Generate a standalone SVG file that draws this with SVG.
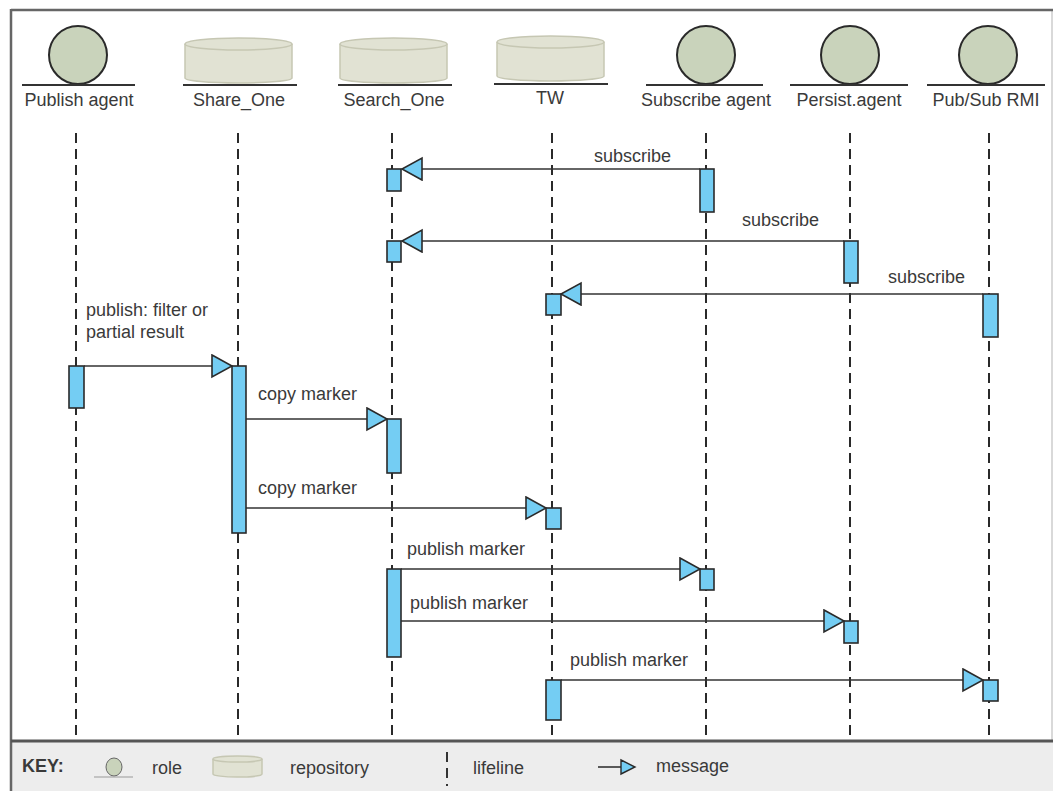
<svg xmlns="http://www.w3.org/2000/svg" width="1053" height="791" viewBox="0 0 1053 791">
<style>
text{font-family:"Liberation Sans",Arial,sans-serif;font-size:18px;fill:#3a3a3a}
.lbl{text-anchor:middle}
.role{fill:#c9d3bb;stroke:#2a2a2a;stroke-width:2}
.repo{fill:#e1e2d3;stroke:#c6c7b3;stroke-width:1.5}
.base{stroke:#333;stroke-width:2}
.life{stroke:#2a2a2a;stroke-width:2;stroke-dasharray:10 6;fill:none}
.act{fill:#74cdf3;stroke:#2a2a2a;stroke-width:1.6}
.msg{stroke:#333;stroke-width:1.6;fill:none;marker-end:url(#arr)}
</style>
<defs>
<marker id="arr" markerUnits="userSpaceOnUse" markerWidth="24" markerHeight="26" refX="21" refY="12" orient="auto" viewBox="0 0 24 26">
<path d="M1,1 L21,12 L1,23 Z" fill="#74cdf3" stroke="#2a2a2a" stroke-width="1.6"/>
</marker>
<g id="cyl">
<path class="repo" d="M0,6 V40 A53.5,5 0 0 0 107,40 V6"/>
<ellipse class="repo" cx="53.5" cy="6" rx="53.5" ry="6"/>
</g>
</defs>
<rect x="0" y="0" width="1053" height="791" fill="#fff"/>
<rect x="11" y="742" width="1042" height="49" fill="#ededed"/>
<line x1="1052" y1="10" x2="1052" y2="742" stroke="#ccc" stroke-width="1.5"/>
<line x1="11" y1="10" x2="1053" y2="10" stroke="#666" stroke-width="2.5"/>
<line x1="11" y1="9" x2="11" y2="791" stroke="#666" stroke-width="2.5"/>
<line x1="11" y1="741" x2="1053" y2="741" stroke="#555" stroke-width="3"/>

<g id="connectors">
<line class="life" x1="76" y1="133" x2="76" y2="736"/>
<line class="life" x1="238" y1="133" x2="238" y2="736"/>
<line class="life" x1="392" y1="133" x2="392" y2="736"/>
<line class="life" x1="552" y1="133" x2="552" y2="736"/>
<line class="life" x1="706" y1="133" x2="706" y2="736"/>
<line class="life" x1="850" y1="133" x2="850" y2="736"/>
<line class="life" x1="989" y1="133" x2="989" y2="736"/>

<line class="msg" x1="700" y1="169" x2="402" y2="169"/>
<text x="594" y="162">subscribe</text>
<line class="msg" x1="844" y1="241" x2="402" y2="241"/>
<text x="742" y="226">subscribe</text>
<line class="msg" x1="983" y1="294" x2="561" y2="294"/>
<text x="888" y="283">subscribe</text>
<line class="msg" x1="84" y1="366" x2="232" y2="366"/>
<text x="86" y="316">publish: filter or</text>
<text x="86" y="338">partial result</text>
<line class="msg" x1="246" y1="419" x2="387" y2="419"/>
<text x="258" y="400">copy marker</text>
<line class="msg" x1="246" y1="508" x2="546" y2="508"/>
<text x="258" y="494">copy marker</text>
<line class="msg" x1="401" y1="569" x2="700" y2="569"/>
<text x="407" y="555">publish marker</text>
<line class="msg" x1="401" y1="621" x2="844" y2="621"/>
<text x="410" y="609">publish marker</text>
<line class="msg" x1="561" y1="680" x2="983" y2="680"/>
<text x="570" y="666">publish marker</text>
</g>

<g id="publish-agent">
<circle class="role" cx="78" cy="55" r="29"/>
<line class="base" x1="22" y1="85" x2="135" y2="85"/>
<text class="lbl" x="79" y="106">Publish agent</text>
<rect class="act" x="69" y="366" width="15" height="42"/>
</g>
<g id="share-one">
<use href="#cyl" x="185" y="38"/>
<line class="base" x1="183" y1="85" x2="297" y2="85"/>
<text class="lbl" x="239" y="106">Share_One</text>
<rect class="act" x="232" y="366" width="14" height="167"/>
</g>
<g id="search-one">
<use href="#cyl" x="340" y="38"/>
<line class="base" x1="338" y1="85" x2="452" y2="85"/>
<text class="lbl" x="394" y="106">Search_One</text>
<rect class="act" x="387" y="169" width="14" height="22"/>
<rect class="act" x="387" y="241" width="14" height="21"/>
<rect class="act" x="387" y="419" width="14" height="54"/>
<rect class="act" x="387" y="569" width="14" height="88"/>
</g>
<g id="tw">
<use href="#cyl" x="497" y="36"/>
<line class="base" x1="494" y1="84" x2="608" y2="84"/>
<text class="lbl" x="550" y="104">TW</text>
<rect class="act" x="546" y="294" width="15" height="21"/>
<rect class="act" x="546" y="508" width="15" height="21"/>
<rect class="act" x="546" y="680" width="15" height="40"/>
</g>
<g id="subscribe-agent">
<circle class="role" cx="706" cy="55" r="29"/>
<line class="base" x1="646" y1="85" x2="763" y2="85"/>
<text class="lbl" x="706" y="106">Subscribe agent</text>
<rect class="act" x="700" y="169" width="14" height="43"/>
<rect class="act" x="700" y="569" width="14" height="21"/>
</g>
<g id="persist-agent">
<circle class="role" cx="850" cy="55" r="29"/>
<line class="base" x1="790" y1="85" x2="908" y2="85"/>
<text class="lbl" x="849" y="106">Persist.agent</text>
<rect class="act" x="844" y="241" width="14" height="42"/>
<rect class="act" x="844" y="621" width="14" height="22"/>
</g>
<g id="pubsub-rmi">
<circle class="role" cx="988" cy="55" r="29"/>
<line class="base" x1="927" y1="85" x2="1045" y2="85"/>
<text class="lbl" x="986" y="106">Pub/Sub RMI</text>
<rect class="act" x="983" y="294" width="15" height="43"/>
<rect class="act" x="983" y="680" width="15" height="21"/>
</g>

<g id="key">
<text x="22" y="772" style="font-weight:bold">KEY:</text>
<ellipse class="role" cx="114" cy="767" rx="8" ry="9" style="stroke:#666;stroke-width:1"/>
<line x1="94" y1="777" x2="133" y2="777" stroke="#999" stroke-width="1"/>
<text x="152" y="774">role</text>
<path class="repo" d="M213,759 V774 A24.5,3 0 0 0 262,774 V759"/>
<ellipse class="repo" cx="237.5" cy="759" rx="24.5" ry="3"/>
<text x="290" y="774">repository</text>
<line x1="447" y1="752" x2="447" y2="786" stroke="#333" stroke-width="2" stroke-dasharray="10 6"/>
<text x="473" y="774">lifeline</text>
<line x1="598" y1="767" x2="622" y2="767" stroke="#333" stroke-width="1.6"/>
<path d="M621,760 L635,767 L621,774 Z" fill="#74cdf3" stroke="#2a2a2a" stroke-width="1.4"/>
<text x="656" y="772">message</text>
</g>
</svg>
